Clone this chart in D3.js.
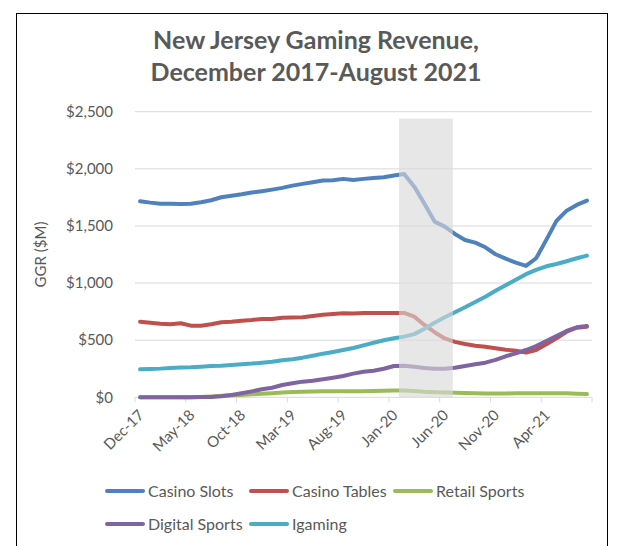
<!DOCTYPE html>
<html>
<head>
<meta charset="utf-8">
<script src="https://cdn.jsdelivr.net/npm/d3@7"></script>
<style>
  body { margin: 0; background: #fff; }
  text { font-family: Lato, "Liberation Sans", sans-serif; fill: #595959; }
</style>
</head>
<body>
<svg id="chart" width="618" height="546"></svg>
<script>
// Monthly categories, Dec 2017 – Aug 2021
const months = [
  "Dec-17","Jan-18","Feb-18","Mar-18","Apr-18","May-18","Jun-18","Jul-18","Aug-18","Sep-18",
  "Oct-18","Nov-18","Dec-18","Jan-19","Feb-19","Mar-19","Apr-19","May-19","Jun-19","Jul-19",
  "Aug-19","Sep-19","Oct-19","Nov-19","Dec-19","Jan-20","Feb-20","Mar-20","Apr-20","May-20",
  "Jun-20","Jul-20","Aug-20","Sep-20","Oct-20","Nov-20","Dec-20","Jan-21","Feb-21","Mar-21",
  "Apr-21","May-21","Jun-21","Jul-21","Aug-21"
];

// Gross gaming revenue, $M
const casinoSlots = [1716,1704,1695,1694,1693,1695,1707,1725,1751,1765,1777,1792,1804,1818,1833,
  1853,1868,1882,1897,1900,1912,1903,1912,1920,1926,1941,1955,1844,1695,1538,
  1494,1430,1377,1354,1313,1252,1214,1179,1150,1217,1378,1544,1634,1684,1722];
const casinoTables = [662,653,644,639,648,627,627,639,657,662,671,677,686,686,697,
  699,701,712,723,729,736,733,738,738,738,738,738,706,633,570,
  515,485,466,452,443,429,417,408,391,414,464,517,574,609,618];
const retailSports = [0,0,0,0,0,0,3,8,13,17,21,26,31,36,42,
  46,49,51,52,53,53,54,54,55,57,59,60,55,49,45,
  42,40,38,35,33,33,34,35,36,36,36,35,35,32,28];
const digitalSports = [0,0,0,0,0,1,2,3,9,20,35,52,70,84,108,
  123,137,145,158,172,187,207,224,233,250,274,277,268,257,250,
  250,259,274,289,303,327,359,385,414,449,493,537,581,613,624];
const igaming = [245,248,251,257,260,263,268,274,277,283,289,295,303,312,324,
  333,347,364,382,397,414,432,455,478,499,517,531,553,600,652,
  700,745,788,834,881,933,981,1030,1078,1115,1147,1167,1191,1217,1240];

const seriesNames = ["Casino Slots","Casino Tables","Retail Sports","Digital Sports","Igaming"];
const seriesColors = ["#4F81BD","#C0504D","#9BBB59","#8064A2","#4BACC6"];
const seriesValues = [casinoSlots, casinoTables, retailSports, digitalSports, igaming];

const xTickLabels = ["Dec-17","May-18","Oct-18","Mar-19","Aug-19","Jan-20","Jun-20","Nov-20","Apr-21"];
const yTicks = [0, 500, 1000, 1500, 2000, 2500];

// COVID closure period, in months from the start of the axis, and its height in $M
const shadeMonths = [26, 31.3];
const shadeTop = 2440;

const svg = d3.select("#chart");

// outer chart frame
svg.append("rect")
  .attr("x", 16.5).attr("y", 13.5)
  .attr("width", 591).attr("height", 560)
  .attr("fill", "none").attr("stroke", "#000").attr("stroke-width", 1);

const plot = { left: 135, right: 592, top: 111.7, bottom: 397.3 };

const x = d3.scaleBand().domain(months).range([plot.left, plot.right]).padding(0);
const xm = d3.scaleLinear().domain([0, months.length]).range([plot.left, plot.right]);
const y = d3.scaleLinear().domain([0, 2500]).range([plot.bottom, plot.top]);
const cx = m => x(m) + x.bandwidth() / 2;

// title
const title = svg.append("text")
  .attr("x", 316).attr("text-anchor", "middle")
  .style("font-size", "25px").style("font-weight", "bold");
title.append("tspan").attr("x", 316).attr("y", 49).text("New Jersey Gaming Revenue,");
title.append("tspan").attr("x", 316).attr("y", 81).text("December 2017-August 2021");

// gridlines
svg.append("g").selectAll("line")
  .data(yTicks.filter(d => d > 0))
  .join("line")
  .attr("x1", plot.left).attr("x2", plot.right)
  .attr("y1", d => y(d)).attr("y2", d => y(d))
  .attr("stroke", "#D9D9D9").attr("stroke-width", 1);

// y axis labels
const yAxis = d3.axisLeft(y).tickValues(yTicks).tickSize(0).tickPadding(22)
  .tickFormat(d => "$" + d3.format(",")(d));
svg.append("g").attr("transform", `translate(${plot.left},0)`).call(yAxis)
  .call(g => g.select(".domain").remove())
  .call(g => g.selectAll("text").style("font-size", "15px").style("font-family", "Lato, sans-serif").attr("fill", "#595959"));

// y axis title
svg.append("text")
  .attr("transform", `translate(46,${(plot.top + plot.bottom) / 2}) rotate(-90)`)
  .attr("text-anchor", "middle")
  .style("font-size", "15px")
  .text("GGR ($M)");

// x axis line and tick marks every five months
svg.append("line")
  .attr("x1", plot.left).attr("x2", plot.right)
  .attr("y1", plot.bottom).attr("y2", plot.bottom)
  .attr("stroke", "#D9D9D9").attr("stroke-width", 1);
const tickIdx = d3.range(0, months.length + 1, 5);
svg.append("g").selectAll("line")
  .data(tickIdx)
  .join("line")
  .attr("x1", d => xm(d)).attr("x2", d => xm(d))
  .attr("y1", plot.bottom).attr("y2", plot.bottom + 5)
  .attr("stroke", "#D9D9D9").attr("stroke-width", 1);

// x tick labels, rotated
svg.append("g").selectAll("text")
  .data(xTickLabels)
  .join("text")
  .attr("transform", d => `translate(${cx(d) + 1},${plot.bottom + 15}) rotate(-45)`)
  .attr("text-anchor", "end")
  .attr("dy", "0.35em")
  .style("font-size", "15px")
  .text(d => d);

// series lines
const line = d3.line()
  .x((d, i) => cx(months[i]))
  .y(d => y(d));
svg.append("g").selectAll("path")
  .data(seriesValues)
  .join("path")
  .attr("d", d => line(d))
  .attr("fill", "none")
  .attr("stroke", (d, i) => seriesColors[i])
  .attr("stroke-width", 4)
  .attr("stroke-linejoin", "round")
  .attr("stroke-linecap", "round");

// translucent band over the closure period
svg.append("rect")
  .attr("x", xm(shadeMonths[0]))
  .attr("width", xm(shadeMonths[1]) - xm(shadeMonths[0]))
  .attr("y", y(shadeTop))
  .attr("height", y(0) - y(shadeTop))
  .attr("fill", "#D9D9D9")
  .attr("fill-opacity", 0.62);

// legend
const legendPos = [
  { x: 105, y: 491 }, { x: 249, y: 491 }, { x: 393, y: 491 },
  { x: 105, y: 524 }, { x: 249, y: 524 }
];
const lg = svg.append("g").selectAll("g")
  .data(seriesNames)
  .join("g")
  .attr("transform", (d, i) => `translate(${legendPos[i].x},${legendPos[i].y})`);
lg.append("line")
  .attr("x1", 2).attr("x2", 38)
  .attr("stroke", (d, i) => seriesColors[i])
  .attr("stroke-width", 4).attr("stroke-linecap", "round");
lg.append("text")
  .attr("x", 43).attr("dy", "0.35em")
  .style("font-size", "16px")
  .text(d => d);
</script>
</body>
</html>
